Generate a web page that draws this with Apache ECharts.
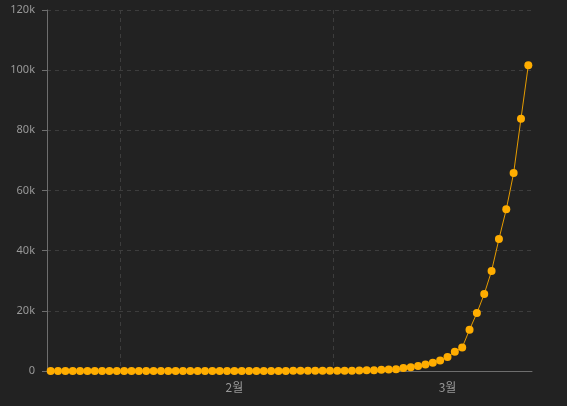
<!DOCTYPE html>
<html>
<head>
<meta charset="utf-8">
<style>
  html, body { margin: 0; padding: 0; background: #222222; }
  #chart { width: 567px; height: 406px; }
</style>
<script src="https://cdn.jsdelivr.net/npm/echarts@6/dist/echarts.min.js"></script>
</head>
<body>
<div id="chart"></div>
<script>
// 날짜 (1/22 ~ 3/27)
var dates = [
  '1/22', '1/23', '1/24', '1/25', '1/26', '1/27', '1/28', '1/29', '1/30', '1/31',
  '2/1', '2/2', '2/3', '2/4', '2/5', '2/6', '2/7', '2/8', '2/9', '2/10',
  '2/11', '2/12', '2/13', '2/14', '2/15', '2/16', '2/17', '2/18', '2/19', '2/20',
  '2/21', '2/22', '2/23', '2/24', '2/25', '2/26', '2/27', '2/28', '2/29',
  '3/1', '3/2', '3/3', '3/4', '3/5', '3/6', '3/7', '3/8', '3/9', '3/10',
  '3/11', '3/12', '3/13', '3/14', '3/15', '3/16', '3/17', '3/18', '3/19', '3/20',
  '3/21', '3/22', '3/23', '3/24', '3/25', '3/26', '3/27'
]
// 누적 확진자
var confirmed = [
  1, 1, 2, 2, 5, 5, 5, 5, 5, 7,
  8, 8, 11, 11, 11, 11, 11, 11, 11, 11,
  12, 12, 13, 13, 13, 13, 13, 13, 13, 13,
  15, 15, 15, 51, 51, 57, 58, 60, 68,
  74, 98, 118, 149, 217, 262, 402, 518, 583, 959,
  1281, 1663, 2179, 2727, 3499, 4632, 6421, 7783, 13747, 19273,
  25600, 33276, 43843, 53736, 65778, 83836, 101657
]
// 월 라벨 (표시 위치의 날짜 -> 라벨)
var monthLabels = { '2/16': '2월', '3/16': '3월' }
// 월 경계 (세로 격자선)
var monthStarts = ['2/1', '3/1']

var chart = echarts.init(document.getElementById('chart'))
chart.setOption({
  backgroundColor: '#222222',
  animation: false,
  grid: {
    left: 47,
    right: 35,
    top: 10,
    bottom: 35
  },
  xAxis: {
    type: 'category',
    data: dates,
    boundaryGap: true,
    axisLine: {
      lineStyle: { color: '#6e6e6e', width: 1 }
    },
    axisTick: { show: false },
    axisLabel: {
      color: '#999',
      fontSize: 12,
      fontFamily: 'Noto Sans CJK KR',
      margin: 10,
      interval: function(index, value) {
        return monthLabels[value] !== undefined
      },
      formatter: function(value) {
        return monthLabels[value] || ''
      }
    },
    splitLine: {
      show: true,
      showMaxLine: false,
      interval: function(index, value) {
        return monthStarts.indexOf(value) >= 0
      },
      lineStyle: { color: '#3d3d3d', type: [4, 4] }
    }
  },
  yAxis: {
    type: 'value',
    min: 0,
    max: 120000,
    interval: 20000,
    axisLine: {
      show: true,
      lineStyle: { color: '#6e6e6e', width: 1 }
    },
    axisTick: {
      show: true,
      length: 5,
      lineStyle: { color: '#6e6e6e' }
    },
    axisLabel: {
      color: '#999',
      fontSize: 11,
      fontFamily: 'Noto Sans',
      margin: 12,
      formatter: function(v) {
        return v === 0 ? '0' : (v / 1000) + 'k'
      }
    },
    splitLine: {
      show: true,
      lineStyle: { color: '#3d3d3d', type: [4, 4] }
    }
  },
  series: [{
    name: '확진자',
    type: 'line',
    data: confirmed,
    symbol: 'circle',
    symbolSize: 8,
    showAllSymbol: true,
    itemStyle: { color: '#ffad00' },
    lineStyle: { color: '#e69c00', width: 1 }
  }]
})
</script>
</body>
</html>
